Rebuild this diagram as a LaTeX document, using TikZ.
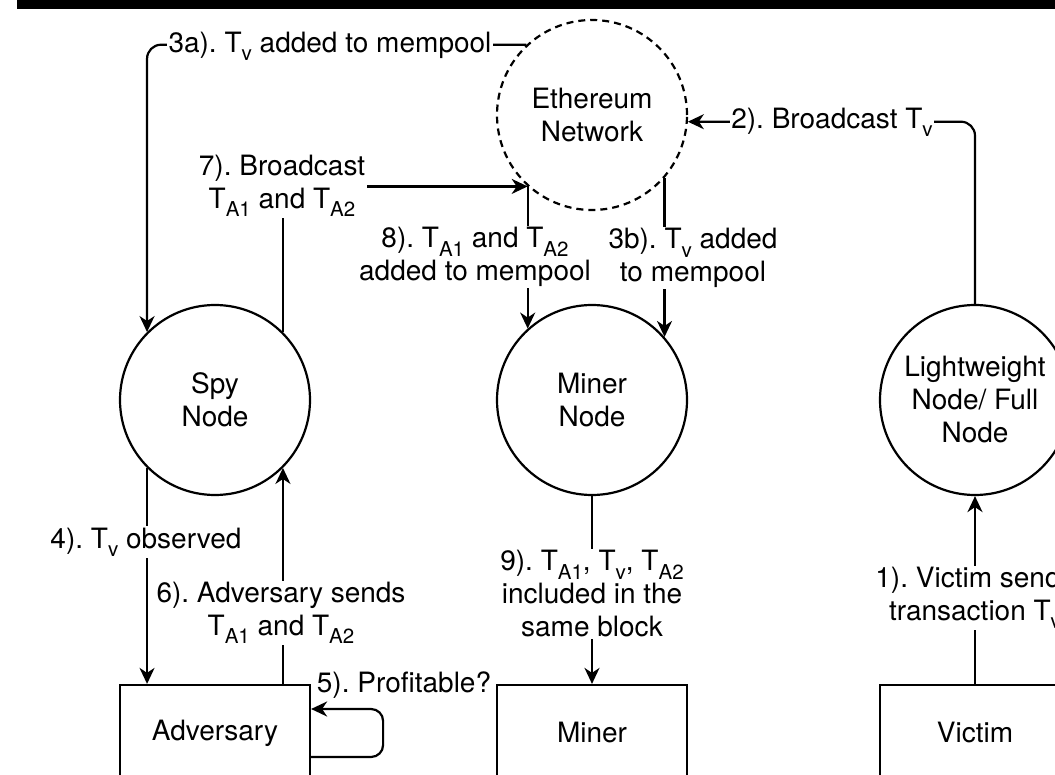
\documentclass[tikz,border=0pt]{standalone}
\usepackage{fontspec}
\setmainfont{TeX Gyre Heros}
\usetikzlibrary{arrows.meta,calc}
\newcommand{\sub}[1]{\raisebox{-0.3em}{\fontsize{20.5}{20.5}\selectfont #1}}
\frenchspacing
\begin{document}
\begin{tikzpicture}[x=1pt,y=-1pt,
  every node/.style={font=\fontsize{28}{33}\selectfont},
  lw/.style={line width=2.2pt},
  arr/.style={lw,-{Stealth[length=16pt,width=15pt,inset=5pt]}},
  roundnode/.style={circle,draw,lw,minimum size=190pt,inner sep=0pt,align=center},
  netnode/.style={roundnode,dash pattern=on 7pt off 5pt},
  boxnode/.style={rectangle,draw,lw,minimum width=190pt,minimum height=96pt,align=center},
  lbl/.style={fill=white,inner sep=1.5pt,align=center}]
\useasboundingbox (0,0) rectangle (1055,775);
\fill[white] (0,0) rectangle (1055,775);
\fill[black] (17,0) rectangle (1055,9);

\node[netnode] (eth) at (592,115) {Ethereum\\Network};
\node[roundnode] (spy) at (215,400) {Spy\\Node};
\node[roundnode] (mnode) at (592,400) {Miner\\Node};
\node[roundnode] (light) at (975,400) {Lightweight\\Node/ Full\\Node};
\node[boxnode] (adv) at (215,733) {Adversary};
\node[boxnode] (miner) at (592,733) {Miner};
\node[boxnode] (victim) at (975,733) {Victim};

\draw[arr, rounded corners=14pt] (light.north) |- (eth.-4.2);
\draw[arr, rounded corners=14pt] (eth.133.4) -| (spy.135.7);
\draw[arr] (eth.-41.6) -- (mnode.41.6);
\draw[arr] (spy.45.15) |- (eth.-132.35);
\draw[arr] (eth.-132.35) -- (mnode.132.35);
\draw[arr] (spy.-135.7) -- (spy.-135.7 |- adv.north);
\draw[arr] (adv.north -| spy.-45.15) -- (spy.-45.15);
\draw[arr, rounded corners=12pt] ([yshift=-24pt]adv.east) -- ++(72,0) |- ([yshift=24pt]adv.east);
\draw[arr] (mnode.south) -- (miner.north);
\draw[arr] (victim.north) -- (light.south);

\node[lbl] (l3a) at (330,46) {3a). T\sub{v} added to mempool};
\node[lbl] (l2) at (832,122) {2). Broadcast T\sub{v}};
\node[lbl] (l7) at (282,186) {7). Broadcast\\T\sub{A1} and T\sub{A2}};
\node[lbl] (l8) at (475,257) {8). T\sub{A1} and T\sub{A2}\\added to mempool};
\node[lbl] (l3b) at (693,258) {3b). T\sub{v} added\\to mempool};
\node[lbl] (l4) at (146,542) {4). T\sub{v} observed};
\node[lbl] (l6) at (281,613) {6). Adversary sends\\T\sub{A1} and T\sub{A2}};
\node[lbl] (l5) at (404,685) {5). Profitable?};
\node[lbl] (l9) at (592,594) {9). T\sub{A1}, T\sub{v}, T\sub{A2}\\included in the\\same block};
\node[lbl] (l1) at (975,598) {1). Victim sends\\transaction T\sub{v}};
\end{tikzpicture}
\end{document}
